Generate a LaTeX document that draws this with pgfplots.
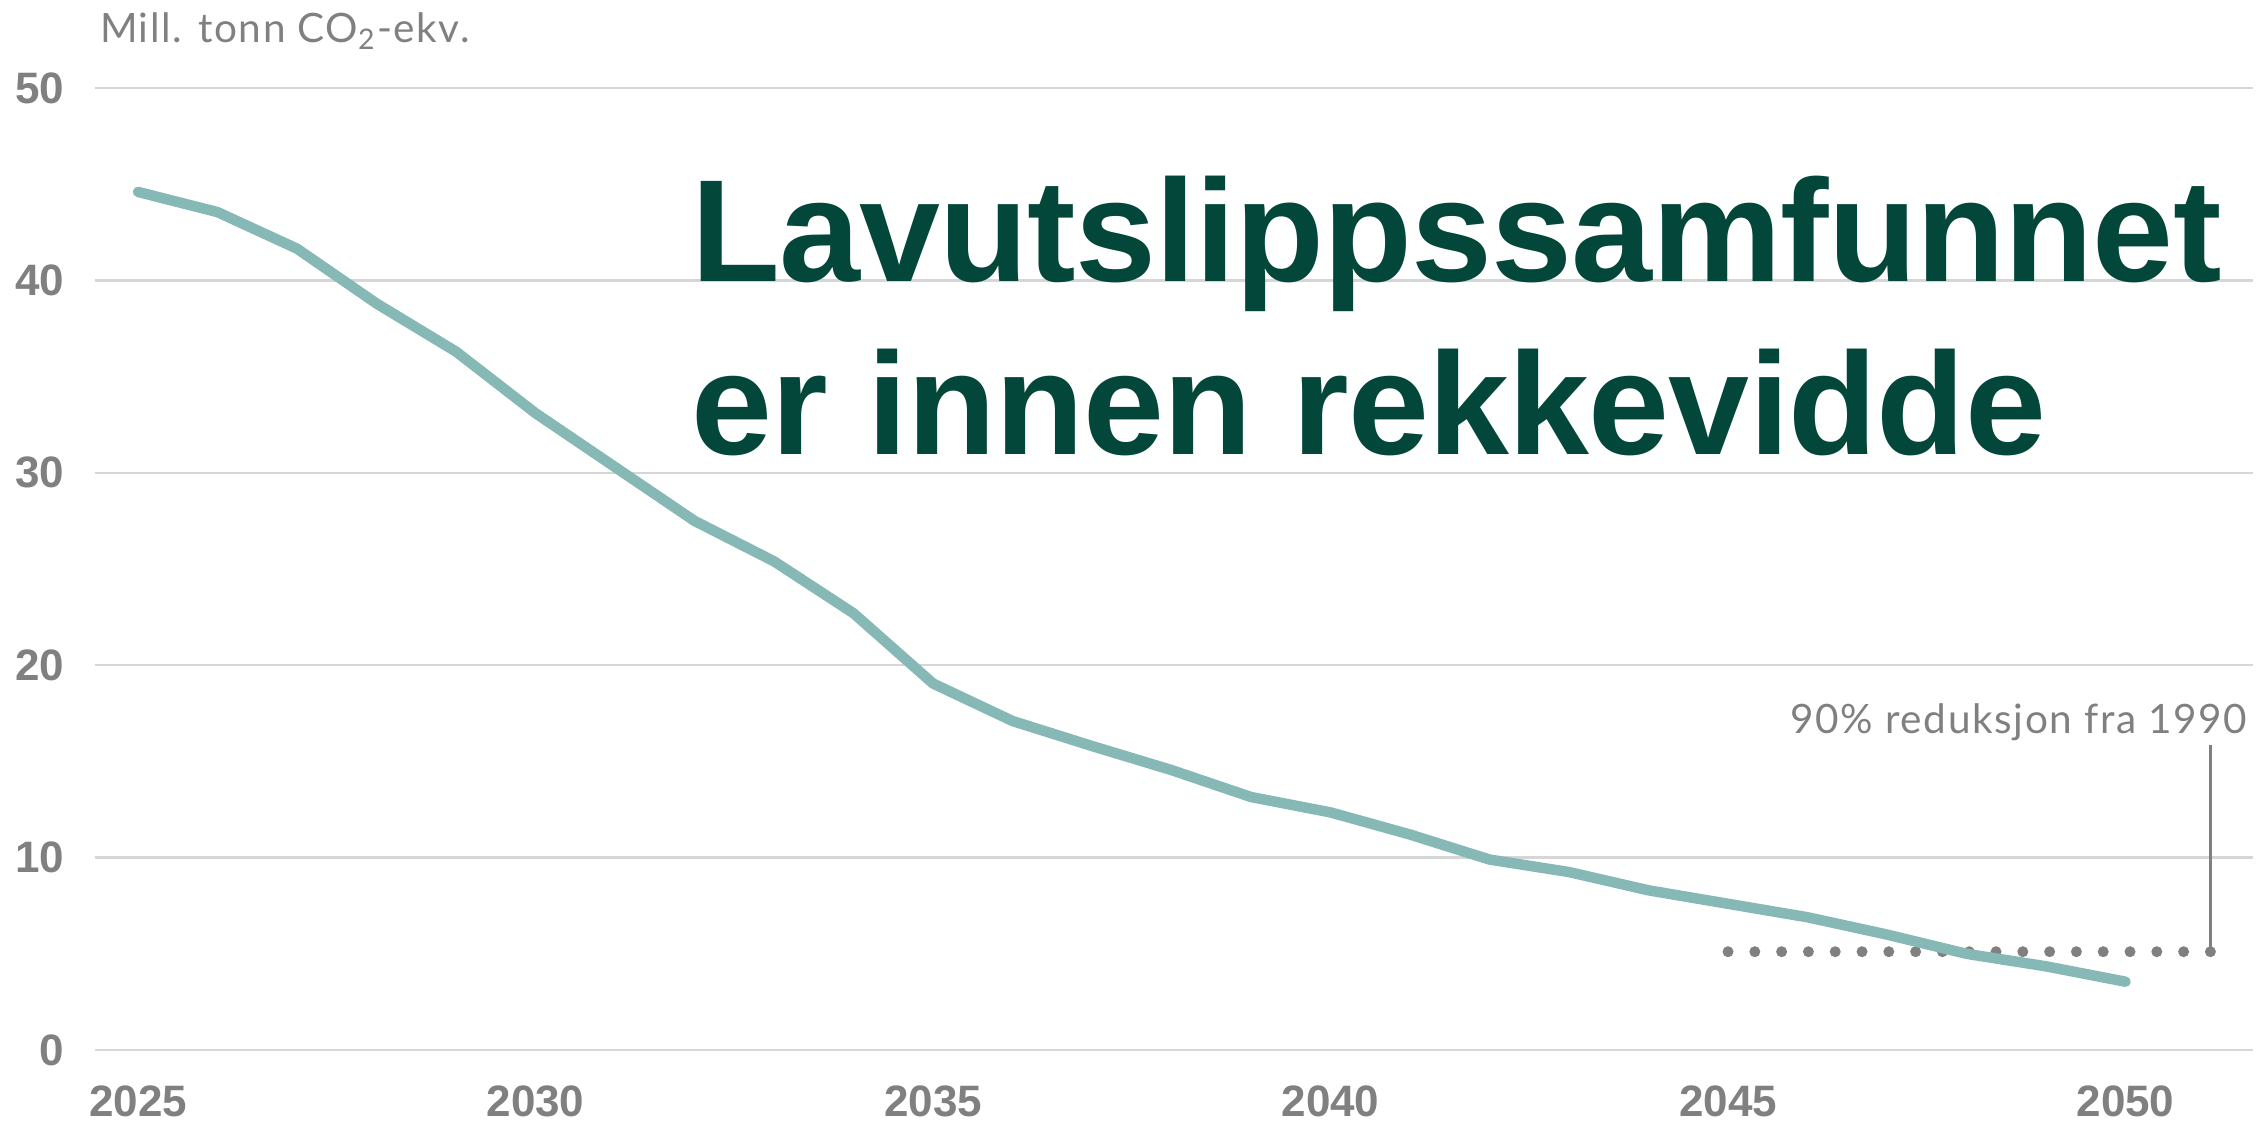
\documentclass[border=0pt]{standalone}
\usepackage{fontspec}
\setmainfont{Liberation Sans}
\newfontfamily\lightfont{Lato}[LetterSpace=4.0]
\newfontfamily\titlefont{Liberation Sans}[LetterSpace=-0.5]
\usepackage{pgfplots}
\pgfplotsset{compat=1.18}
\definecolor{titlegreen}{HTML}{03473B}
\definecolor{lineteal}{HTML}{86B9B6}
\definecolor{txtgray}{HTML}{808080}
\definecolor{gridgray}{HTML}{D6D6D6}
\begin{document}
\begin{tikzpicture}
\useasboundingbox (0,0) rectangle (451.6pt,225.4pt);
\begin{axis}[
  at={(19pt,15.4pt)}, anchor=south west,
  scale only axis, width=431.6pt, height=192.4pt,
  xmin=2024.459, xmax=2051.604, ymin=0, ymax=50,
  xtick={2025,2030,2035,2040,2045,2050},
  xticklabels={2025,2030,2035,2040,2045,2050},
  ytick={0,10,20,30,40,50},
  yticklabels={0,10,20,30,40,50},
  ymajorgrids, grid style={gridgray, line width=0.5pt},
  axis line style={draw=none}, major tick length=0pt,
  tick label style={font=\fontsize{8.8}{10}\selectfont\bfseries, text=txtgray, inner sep=0pt},
  yticklabel style={anchor=east, xshift=-6pt},
  xticklabel style={anchor=north, yshift=-7pt},
  clip=false,
]
\addplot[txtgray, line width=2.2pt, line cap=round, dash pattern=on 0pt off 5.36pt]
  coordinates {(2045,5.11) (2051.07,5.11)};
\addplot[txtgray, line width=0.45pt] coordinates {(2051.07,5.11) (2051.07,15.85)};
\addplot[lineteal, line width=2.1pt, line join=round, line cap=round] coordinates {
(2025,44.6) (2026,43.55) (2027,41.65) (2028,38.8) (2029,36.3) (2030,33.1)
(2031,30.3) (2032,27.5) (2033,25.4) (2034,22.7) (2035,19.05) (2036,17.1)
(2037,15.8) (2038,14.55) (2039,13.15) (2040,12.35) (2041,11.2) (2042,9.9)
(2043,9.25) (2044,8.3) (2045,7.6) (2046,6.9) (2047,6.0) (2048,5.0)
(2049,4.35) (2050,3.55)};
\end{axis}
\node[anchor=base west, inner sep=0pt, text=titlegreen, font=\titlefont\bfseries\fontsize{29.1}{34}\selectfont] at (138pt,169.06pt) {Lavutslippssamfunnet};
\node[anchor=base west, inner sep=0pt, text=titlegreen, font=\titlefont\bfseries\fontsize{29.1}{34}\selectfont] at (138pt,134.6pt) {er innen rekkevidde};
\node[anchor=base west, inner sep=0pt, text=txtgray, font=\lightfont\fontsize{8.1}{10}\selectfont] at (19.8pt,216.8pt) {Mill. tonn CO\textsubscript{2}-ekv.};
\node[anchor=base east, inner sep=0pt, text=txtgray, font=\lightfont\fontsize{8.1}{10}\selectfont] at (449.6pt,78.8pt) {90\% reduksjon fra 1990};
\end{tikzpicture}
\end{document}
